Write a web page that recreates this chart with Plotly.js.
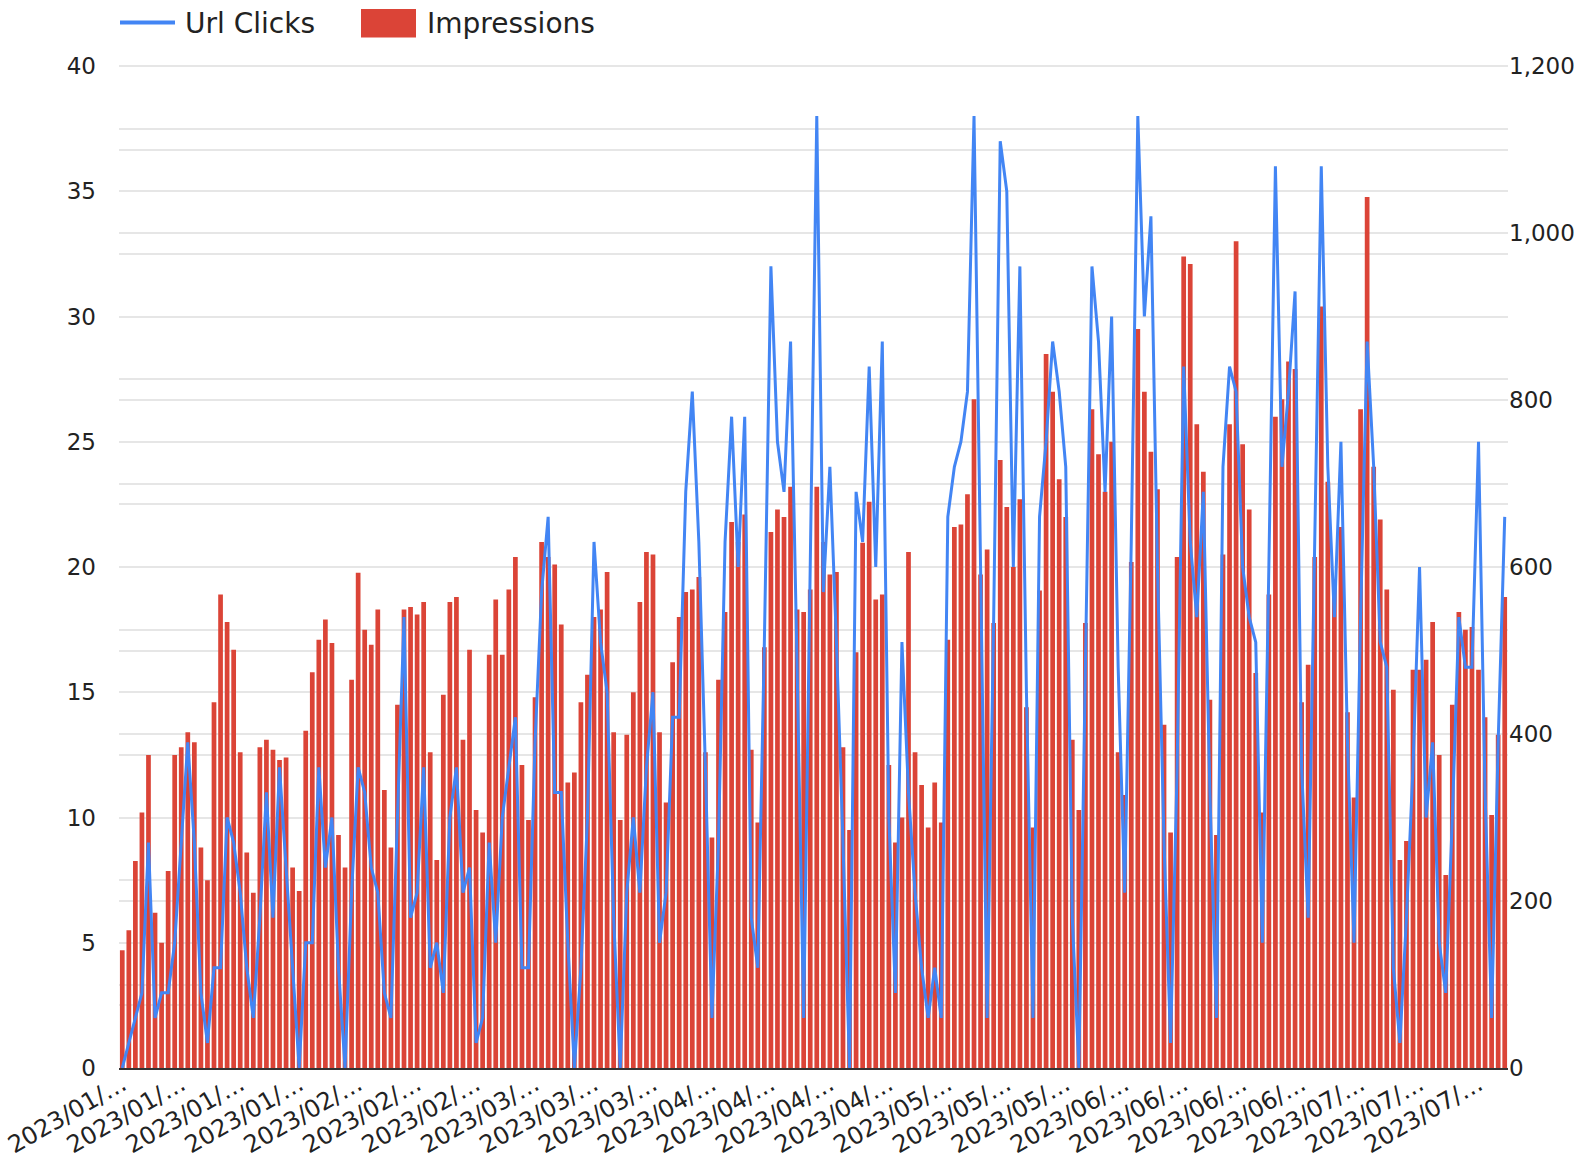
<!DOCTYPE html>
<html>
<head>
<meta charset="utf-8">
<script src="https://cdn.plot.ly/plotly-3.0.1.min.js"></script>
<style>
  html, body { margin: 0; padding: 0; background: #ffffff; }
  #chart { width: 1589px; height: 1159px; }
</style>
</head>
<body>
<div id="chart"></div>
<script>
// ---- categories (days, 2023/01/01 .. 2023/07/31) ----
const dates = [
"2023/01/01","2023/01/02","2023/01/03","2023/01/04","2023/01/05","2023/01/06","2023/01/07","2023/01/08","2023/01/09","2023/01/10",
"2023/01/11","2023/01/12","2023/01/13","2023/01/14","2023/01/15","2023/01/16","2023/01/17","2023/01/18","2023/01/19","2023/01/20",
"2023/01/21","2023/01/22","2023/01/23","2023/01/24","2023/01/25","2023/01/26","2023/01/27","2023/01/28","2023/01/29","2023/01/30",
"2023/01/31","2023/02/01","2023/02/02","2023/02/03","2023/02/04","2023/02/05","2023/02/06","2023/02/07","2023/02/08","2023/02/09",
"2023/02/10","2023/02/11","2023/02/12","2023/02/13","2023/02/14","2023/02/15","2023/02/16","2023/02/17","2023/02/18","2023/02/19",
"2023/02/20","2023/02/21","2023/02/22","2023/02/23","2023/02/24","2023/02/25","2023/02/26","2023/02/27","2023/02/28","2023/03/01",
"2023/03/02","2023/03/03","2023/03/04","2023/03/05","2023/03/06","2023/03/07","2023/03/08","2023/03/09","2023/03/10","2023/03/11",
"2023/03/12","2023/03/13","2023/03/14","2023/03/15","2023/03/16","2023/03/17","2023/03/18","2023/03/19","2023/03/20","2023/03/21",
"2023/03/22","2023/03/23","2023/03/24","2023/03/25","2023/03/26","2023/03/27","2023/03/28","2023/03/29","2023/03/30","2023/03/31",
"2023/04/01","2023/04/02","2023/04/03","2023/04/04","2023/04/05","2023/04/06","2023/04/07","2023/04/08","2023/04/09","2023/04/10",
"2023/04/11","2023/04/12","2023/04/13","2023/04/14","2023/04/15","2023/04/16","2023/04/17","2023/04/18","2023/04/19","2023/04/20",
"2023/04/21","2023/04/22","2023/04/23","2023/04/24","2023/04/25","2023/04/26","2023/04/27","2023/04/28","2023/04/29","2023/04/30",
"2023/05/01","2023/05/02","2023/05/03","2023/05/04","2023/05/05","2023/05/06","2023/05/07","2023/05/08","2023/05/09","2023/05/10",
"2023/05/11","2023/05/12","2023/05/13","2023/05/14","2023/05/15","2023/05/16","2023/05/17","2023/05/18","2023/05/19","2023/05/20",
"2023/05/21","2023/05/22","2023/05/23","2023/05/24","2023/05/25","2023/05/26","2023/05/27","2023/05/28","2023/05/29","2023/05/30",
"2023/05/31","2023/06/01","2023/06/02","2023/06/03","2023/06/04","2023/06/05","2023/06/06","2023/06/07","2023/06/08","2023/06/09",
"2023/06/10","2023/06/11","2023/06/12","2023/06/13","2023/06/14","2023/06/15","2023/06/16","2023/06/17","2023/06/18","2023/06/19",
"2023/06/20","2023/06/21","2023/06/22","2023/06/23","2023/06/24","2023/06/25","2023/06/26","2023/06/27","2023/06/28","2023/06/29",
"2023/06/30","2023/07/01","2023/07/02","2023/07/03","2023/07/04","2023/07/05","2023/07/06","2023/07/07","2023/07/08","2023/07/09",
"2023/07/10","2023/07/11","2023/07/12","2023/07/13","2023/07/14","2023/07/15","2023/07/16","2023/07/17","2023/07/18","2023/07/19",
"2023/07/20","2023/07/21","2023/07/22","2023/07/23","2023/07/24","2023/07/25","2023/07/26","2023/07/27","2023/07/28","2023/07/29",
"2023/07/30","2023/07/31"
];

// ---- series: Impressions (bars, right axis) ----
const impressions = [
141,165,248,306,375,186,150,236,375,384,
402,390,264,225,438,567,534,501,378,258,
210,384,393,381,369,372,240,212,404,474,
513,537,509,279,240,465,593,525,507,549,
333,264,435,549,552,543,558,378,249,447,
558,564,393,501,309,282,495,561,495,573,
612,363,297,444,630,612,603,531,342,354,
438,471,540,549,594,402,297,399,450,558,
618,615,402,318,486,540,570,573,588,378,
276,465,546,654,630,663,381,294,504,642,
669,660,696,549,546,573,696,630,591,594,
384,285,498,629,678,561,567,363,270,300,
618,378,339,288,342,294,513,648,651,687,
801,591,621,533,728,672,600,681,432,288,
572,855,810,705,660,393,309,533,789,735,
690,750,378,327,606,885,810,738,693,411,
282,612,972,963,771,714,441,279,615,771,
990,747,669,473,306,567,780,801,846,837,
438,483,612,912,702,585,648,426,324,789,
1043,720,657,573,453,249,272,477,477,489,
534,375,231,435,546,525,528,477,420,303,
399,564
];

// ---- series: Url Clicks (line, left axis) ----
const urlClicks = [
0,1,2,3,9,2,3,3,5,9,
13,9,3,1,4,4,10,9,7,4,
2,6,11,6,12,8,4,0,5,5,
12,8,10,4,0,7,12,11,8,7,
3,2,10,18,6,7,12,4,5,3,
10,12,7,8,1,2,9,5,10,12,
14,4,4,13,19,22,11,11,5,0,
4,10,21,17,15,6,0,7,10,7,
12,15,5,7,14,14,23,27,21,12,
2,9,21,26,20,26,6,4,17,32,
25,23,29,16,2,20,38,19,24,17,
9,0,23,21,28,20,29,10,3,17,
11,7,4,2,4,2,22,24,25,27,
38,20,2,18,37,35,20,32,15,2,
22,25,29,27,24,6,0,16,32,29,
23,30,16,7,21,38,30,34,20,9,
1,12,28,21,18,23,11,2,24,28,
27,20,18,17,5,20,36,24,27,31,
12,6,21,36,24,18,25,13,5,18,
29,24,17,16,4,1,6,12,20,10,
13,5,3,10,18,16,16,25,11,2,
13,22
];

// ---- x tick labels (every 9th day) ----
const tickDates = ["2023/01/01","2023/01/10","2023/01/19","2023/01/28","2023/02/06","2023/02/15","2023/02/24",
  "2023/03/05","2023/03/14","2023/03/23","2023/04/01","2023/04/10","2023/04/19","2023/04/28",
  "2023/05/07","2023/05/16","2023/05/25","2023/06/03","2023/06/12","2023/06/21","2023/06/30",
  "2023/07/09","2023/07/18","2023/07/27"];
const tickLabels = ["2023/01/…","2023/01/…","2023/01/…","2023/01/…","2023/02/…","2023/02/…","2023/02/…",
  "2023/03/…","2023/03/…","2023/03/…","2023/04/…","2023/04/…","2023/04/…","2023/04/…",
  "2023/05/…","2023/05/…","2023/05/…","2023/06/…","2023/06/…","2023/06/…","2023/06/…",
  "2023/07/…","2023/07/…","2023/07/…"];

const FONT = "DejaVu Sans, Arial, sans-serif";
const GRID = "#e6e6e6";
const BAR = "#db4437";
const LINE = "#4285f4";

const traces = [
  {
    type: "bar", name: "Impressions", x: dates, y: impressions,
    xaxis: "x", yaxis: "y",
    marker: { color: BAR }, showlegend: false, hoverinfo: "x+y"
  },
  {
    type: "scatter", mode: "lines", name: "Url Clicks", x: dates, y: urlClicks,
    xaxis: "x", yaxis: "y2",
    line: { color: LINE, width: 3 }, showlegend: false
  }
];

const W = 1589, H = 1159, ML = 119, MR = 81, MT = 66, MB = 91;
const PW = W - ML - MR, PH = H - MT - MB;
const px = v => (v - ML) / PW;
const py = v => (MT + PH - v) / PH;

const layout = {
  width: W, height: H,
  margin: { l: ML, r: MR, t: MT, b: MB, pad: 0 },
  paper_bgcolor: "#ffffff", plot_bgcolor: "#ffffff",
  font: { family: FONT, size: 23, color: "#222222" },
  bargap: 0.28,
  showlegend: false,
  xaxis: {
    type: "category", range: [-0.5, dates.length - 0.5],
    tickmode: "array", tickvals: tickDates, ticktext: tickLabels,
    tickangle: -30, showgrid: false, zeroline: false,
    showline: true, linecolor: "#333333", linewidth: 2,
    ticks: "", ticklabelstandoff: -9,
    tickfont: { family: FONT, size: 24, color: "#222222" }
  },
  yaxis: {
    side: "right", range: [0, 1200],
    tickmode: "array", tickvals: [0, 200, 400, 600, 800, 1000, 1200],
    tickformat: ",d", showgrid: true, gridcolor: GRID, gridwidth: 2,
    minor: { tickmode: "array", tickvals: [100, 300, 500, 700, 900, 1100], showgrid: true, gridcolor: GRID, gridwidth: 2, ticks: "" },
    zeroline: false, showline: false, ticks: "",
    tickfont: { family: FONT, size: 23, color: "#222222" }
  },
  yaxis2: {
    overlaying: "y", side: "left", range: [0, 40],
    tickmode: "array", tickvals: [0, 5, 10, 15, 20, 25, 30, 35, 40],
    showgrid: true, gridcolor: GRID, gridwidth: 2,
    minor: { tickmode: "array", tickvals: [2.5, 7.5, 12.5, 17.5, 22.5, 27.5, 32.5, 37.5], showgrid: true, gridcolor: GRID, gridwidth: 2, ticks: "" },
    zeroline: false, showline: false, ticks: "", ticklabelstandoff: 22,
    tickfont: { family: FONT, size: 23, color: "#222222" }
  },
  shapes: [
    { type: "line", xref: "paper", yref: "paper", x0: 0, x1: 1, y0: 1, y1: 1, layer: "below", line: { color: GRID, width: 2 } },
    { type: "line", xref: "paper", yref: "paper", x0: px(120), x1: px(175), y0: py(22.5), y1: py(22.5), line: { color: LINE, width: 4 } },
    { type: "rect", xref: "paper", yref: "paper", x0: px(361), x1: px(416), y0: py(37.5), y1: py(9), fillcolor: BAR, line: { width: 0 } }
  ],
  annotations: [
    { xref: "paper", yref: "paper", x: px(183), y: py(23), xanchor: "left", yanchor: "middle", showarrow: false, text: "Url Clicks", font: { family: FONT, size: 28, color: "#222222" } },
    { xref: "paper", yref: "paper", x: px(425), y: py(23), xanchor: "left", yanchor: "middle", showarrow: false, text: "Impressions", font: { family: FONT, size: 28, color: "#222222" } }
  ]
};

Plotly.newPlot("chart", traces, layout, { displayModeBar: false, staticPlot: true });
</script>
</body>
</html>
